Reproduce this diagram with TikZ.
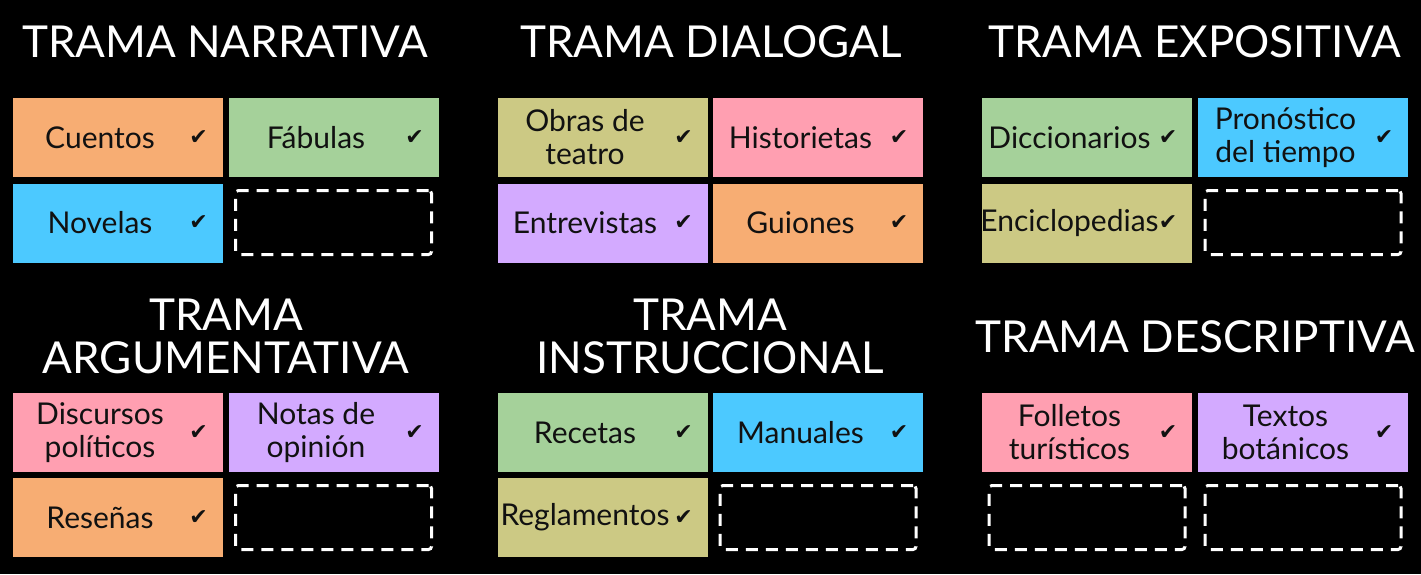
\documentclass[tikz,border=0pt]{standalone}
\usepackage{fontspec}
\setmainfont{Lato}
\newfontfamily\symfont{DejaVu Sans}
\definecolor{cOrange}{RGB}{247,173,115}
\definecolor{cGreen}{RGB}{165,209,154}
\definecolor{cBlue}{RGB}{76,201,255}
\definecolor{cPink}{RGB}{255,159,177}
\definecolor{cPurple}{RGB}{211,170,255}
\definecolor{cOlive}{RGB}{204,201,132}
\definecolor{cInk}{RGB}{17,17,17}
\tikzset{
  cell/.style={minimum width=105pt, minimum height=39.5pt, inner sep=0pt, outer sep=0pt},
  lbl/.style={text=cInk, align=center, inner sep=0pt, font=\fontsize{15}{16.5}\selectfont},
  chk/.style={text=cInk, inner sep=0pt, font=\symfont\bfseries\fontsize{11}{11}\selectfont},
  dbox/.style={draw=white, line width=1.5pt, dash pattern=on 6pt off 4pt, rounded corners=1.5pt, minimum width=98pt, minimum height=32pt, inner sep=0pt},
  ttl/.style={text=white, align=center, inner sep=0pt, font=\fontsize{22}{21.5}\selectfont}
}
\newcommand\mybox[5]{%
  \node[cell, fill=#4] (#1) at (#2,#3) {};
  \node[lbl] (#1-t) at ([xshift=-8.75pt]#1.center) {#5};
  \node[chk] (#1-c) at ([xshift=-12pt]#1.east) {✔};
}
\begin{document}
\begin{tikzpicture}[x=0.5pt, y=-0.5pt]
\fill[black] (0,0) rectangle (1421,574);
\useasboundingbox (0,0) rectangle (1421,574);
% titles
\node[ttl] (t1) at (225,42) {TRAMA NARRATIVA};
\node[ttl] (t2) at (711,42) {TRAMA DIALOGAL};
\node[ttl] (t3) at (1195,42) {TRAMA EXPOSITIVA};
\node[ttl] (t4) at (226,336.5) {TRAMA\\ARGUMENTATIVA};
\node[ttl] (t5) at (710,336.5) {TRAMA\\INSTRUCCIONAL};
\node[ttl] (t6) at (1195,337) {TRAMA DESCRIPTIVA};
% narrativa
\mybox{a1}{117.5}{137.5}{cOrange}{Cuentos}
\mybox{a2}{333.5}{137.5}{cGreen}{Fábulas}
\mybox{a3}{117.5}{223}{cBlue}{Novelas}
\node[dbox] (a4) at (333.5,222.5) {};
% dialogal
\mybox{b1}{602.5}{137.5}{cOlive}{Obras de\\teatro}
\mybox{b2}{818}{137.5}{cPink}{Historietas}
\mybox{b3}{602.5}{223}{cPurple}{Entrevistas}
\mybox{b4}{818}{223}{cOrange}{Guiones}
% expositiva
\mybox{c1}{1087}{137.5}{cGreen}{Diccionarios}
\mybox{c2}{1303}{137.5}{cBlue}{Pronóstico\\del tiempo}
\mybox{c3}{1087}{223}{cOlive}{Enciclopedias}
\node[dbox] (c4) at (1303,222.5) {};
% argumentativa
\mybox{d1}{117.5}{432.5}{cPink}{Discursos\\políticos}
\mybox{d2}{333.5}{432.5}{cPurple}{Notas de\\opinión}
\mybox{d3}{117.5}{517.5}{cOrange}{Reseñas}
\node[dbox] (d4) at (333.5,517.5) {};
% instruccional
\mybox{e1}{602.5}{432.5}{cGreen}{Recetas}
\mybox{e2}{818}{432.5}{cBlue}{Manuales}
\mybox{e3}{602.5}{517.5}{cOlive}{Reglamentos}
\node[dbox] (e4) at (818,517.5) {};
% descriptiva
\mybox{f1}{1087}{432.5}{cPink}{Folletos\\turísticos}
\mybox{f2}{1303}{432.5}{cPurple}{Textos\\botánicos}
\node[dbox] (f3) at (1087,517.5) {};
\node[dbox] (f4) at (1303,517.5) {};
\end{tikzpicture}
\end{document}
